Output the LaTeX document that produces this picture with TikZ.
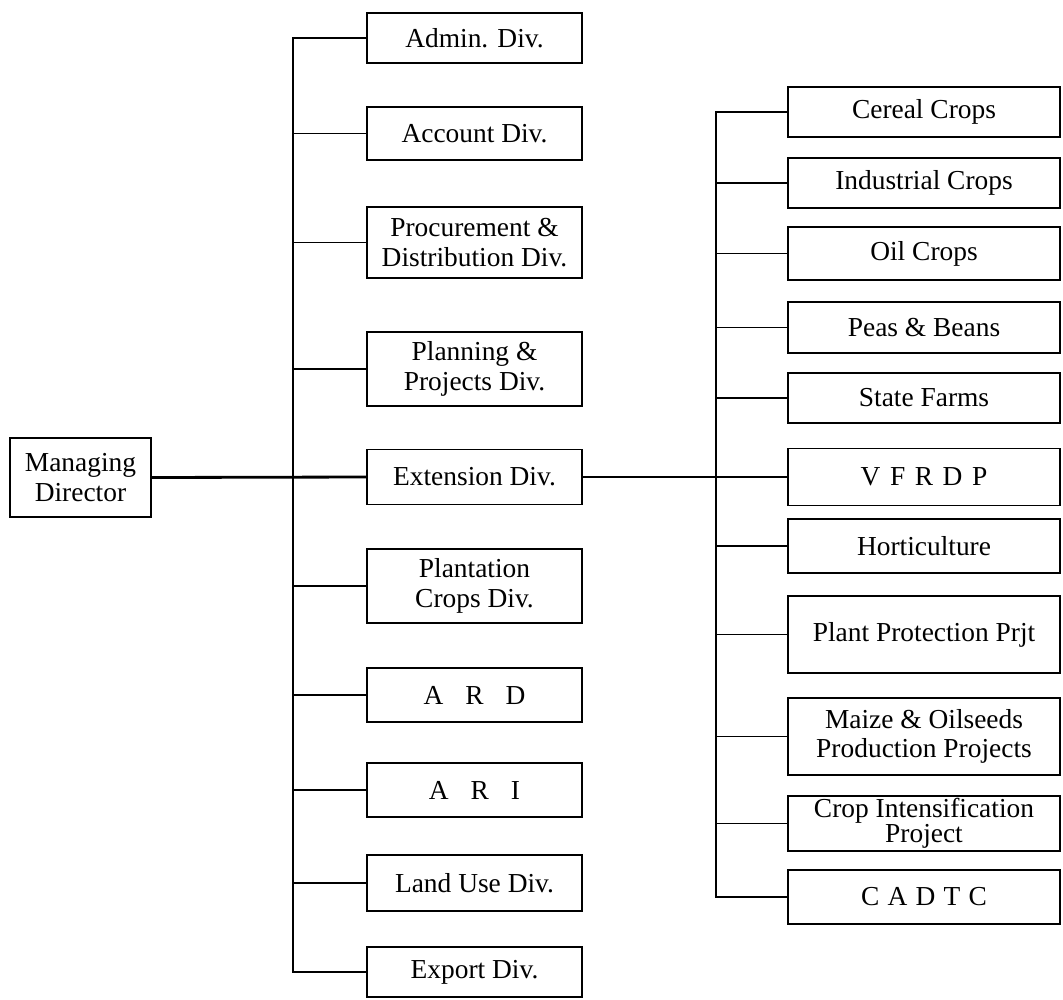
\documentclass[tikz,border=0pt]{standalone}
\usepackage{fontspec}
\setmainfont{Liberation Serif}
\usepackage{tikz}

\begin{document}
\begin{tikzpicture}[x=0.025cm, y=-0.025cm,
    box/.style={draw, line width=1.3pt, align=center, inner sep=0pt,
      font=\fontsize{19.5}{21}\selectfont},
    lbox/.style={box, minimum width=5.375cm},
    rbox/.style={box, minimum width=6.8cm},
    link/.style={line width=1.3pt},
    mainlink/.style={line width=2pt}]
  \useasboundingbox (0,0) rectangle (1063,999);

  % managing director
  \node[box, minimum width=3.525cm, minimum height=1.975cm] (md) at (80.5,477.5) {Managing\\Director};

  % divisions
  \node[lbox, minimum height=1.25cm] (admin) at (474.5,38) {Admin. Div.};
  \node[lbox, minimum height=1.325cm] (account) at (474.5,133.5) {Account Div.};
  \node[lbox, minimum height=1.775cm] (procure) at (474.5,242.5) {Procurement \&\\Distribution Div.};
  \node[lbox, minimum height=1.85cm] (planning) at (474.5,369) {Planning \&\\Projects Div.};
  \node[lbox, minimum height=1.375cm] (ext) at (474.5,477) {Extension Div.};
  \node[lbox, minimum height=1.85cm] (plantation) at (474.5,586) {Plantation\\Crops Div.};
  \node[lbox, minimum height=1.35cm] (ard) at (474.5,695) {A\hskip0.8em R\hskip0.8em D};
  \node[lbox, minimum height=1.35cm] (ari) at (474.5,790) {A\hskip0.8em R\hskip0.8em I};
  \node[lbox, minimum height=1.4cm] (landuse) at (474.5,883) {Land Use Div.};
  \node[lbox, minimum height=1.25cm] (export) at (474.5,972) {Export Div.};

  % extension units
  \node[rbox, minimum height=1.25cm] (cereal) at (924,112) {Cereal Crops};
  \node[rbox, minimum height=1.25cm] (industrial) at (924,183) {Industrial Crops};
  \node[rbox, minimum height=1.325cm] (oil) at (924,253.5) {Oil Crops};
  \node[rbox, minimum height=1.275cm] (peas) at (924,327.5) {Peas \& Beans};
  \node[rbox, minimum height=1.25cm] (state) at (924,398) {State Farms};
  \node[rbox, minimum height=1.425cm] (vfrdp) at (924,477) {V\hskip0.35em F\hskip0.35em R\hskip0.35em D\hskip0.35em P};
  \node[rbox, minimum height=1.35cm] (hort) at (924,546) {Horticulture};
  \node[rbox, minimum height=1.925cm] (plantprot) at (924,634.5) {Plant Protection Prjt};
  \node[rbox, minimum height=1.925cm] (maize) at (924,736.5) {Maize \& Oilseeds\\Production Projects};
  \node[rbox, minimum height=1.375cm, font=\fontsize{19.5}{18}\selectfont] (cropint) at (924,823.5) {Crop Intensification\\Project};
  \node[rbox, minimum height=1.35cm] (cadtc) at (924,897) {C\hskip0.3em A\hskip0.3em D\hskip0.3em T\hskip0.3em C};

  % left bus
  \draw[link] (admin.west) -- ++(-73,0) |- (export.west);
  \foreach \n in {account, procure, planning, plantation, ard, ari, landuse}
    \draw[link] (\n.west) -- ++(-73,0);
  \draw[mainlink] (md.east) -- (ext.west);
  \draw[mainlink] (ext.east) -- (vfrdp.west);

  % right bus
  \draw[link] (cereal.west) -- ++(-71,0) |- (cadtc.west);
  \foreach \n in {industrial, oil, peas, state, hort, plantprot, maize, cropint}
    \draw[link] (\n.west) -- ++(-71,0);
\end{tikzpicture}
\end{document}
